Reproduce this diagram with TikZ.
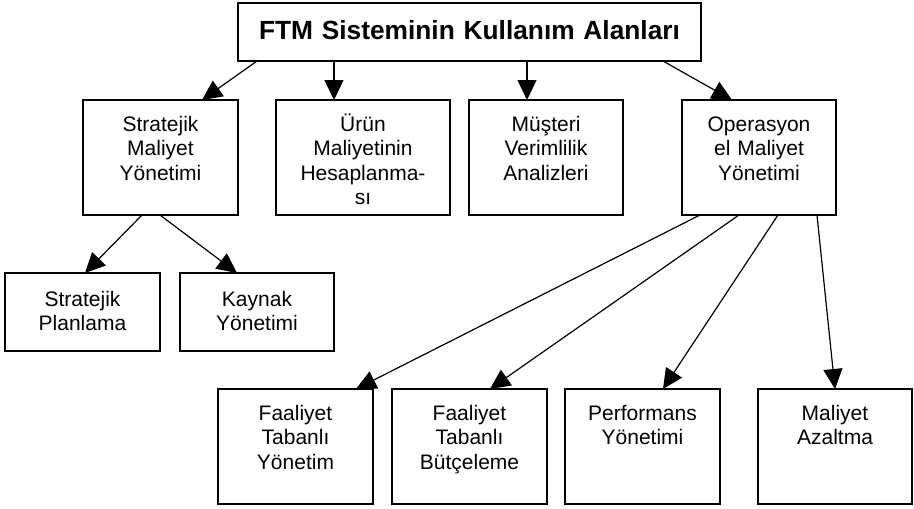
\documentclass[tikz,border=0pt]{standalone}
\usepackage{fontspec}
\setmainfont{Liberation Sans}
\usepackage{tikz}
\usetikzlibrary{positioning,arrows.meta}

\begin{document}
\begin{tikzpicture}[x=1pt, y=-1pt,
        boxnode/.style={rectangle, draw=black, line width=1.6pt, fill=white, inner sep=0pt, outer sep=0pt, align=center, text width=155pt, text height=31pt, text depth=84pt, font=\fontsize{21}{24.5}\selectfont},
        smallbox/.style={boxnode, text height=33pt, text depth=45pt},
        titlenode/.style={boxnode, text width=463pt, text height=36pt, text depth=22pt, font=\fontsize{26.3}{30}\selectfont\bfseries},
        link/.style={line width=1.2pt, -{Triangle[length=20pt,width=19pt]}}]

        \useasboundingbox (0,0) rectangle (914,509);

        \node[titlenode, anchor=north west] (title) at (238,3) {FTM Sisteminin Kullanım Alanları};

        \node[boxnode, anchor=north west] (stratmy) at (83,100) {Stratejik\\Maliyet\\Yönetimi};
        \node[boxnode, text width=174pt] (urun) [right=38pt of stratmy] {Ürün\\Maliyetinin\\Hesaplanma-\\sı};
        \node[boxnode, text width=154pt] (musteri) [right=19pt of urun] {Müşteri\\Verimlilik\\Analizleri};
        \node[boxnode, text width=154pt] (opermy) [right=59pt of musteri] {Operasyon\\el Maliyet\\Yönetimi};

        \node[smallbox, anchor=north west] (splan) at (5,273) {Stratejik\\Planlama};
        \node[smallbox, text width=154pt] (kaynak) [right=20pt of splan] {Kaynak\\Yönetimi};

        \node[boxnode, anchor=north west] (fty) at (218,389) {Faaliyet\\Tabanlı\\Yönetim};
        \node[boxnode] (ftb) [right=19pt of fty] {Faaliyet\\Tabanlı\\Bütçeleme};
        \node[boxnode] (perf) [right=18pt of ftb] {Performans\\Yönetimi};
        \node[boxnode, text width=154pt] (mazalt) [right=38pt of perf] {Maliyet\\Azaltma};

        \draw[link] ([xshift=19pt]title.south west) -- ([xshift=119pt]stratmy.north west);
        \draw[link] ([xshift=58pt]urun.north west |- title.south) -- ([xshift=58pt]urun.north west);
        \draw[link] ([xshift=58pt]musteri.north west |- title.south) -- ([xshift=58pt]musteri.north west);
        \draw[link] ([xshift=-38pt]title.south east) -- ([xshift=50pt]opermy.north west);

        \draw[link] ([xshift=59pt]stratmy.south west) -- ([xshift=80pt]splan.north west);
        \draw[link] ([xshift=77pt]stratmy.south west) -- ([xshift=57pt]kaynak.north west);

        \draw[link] ([xshift=18pt]opermy.south west) -- ([xshift=138pt]fty.north west);
        \draw[link] ([xshift=57pt]opermy.south west) -- ([xshift=98pt]ftb.north west);
        \draw[link] ([xshift=96pt]opermy.south west) -- ([xshift=98pt]perf.north west);
        \draw[link] ([xshift=135pt]opermy.south west) -- ([xshift=77pt]mazalt.north west);

\end{tikzpicture}
\end{document}
